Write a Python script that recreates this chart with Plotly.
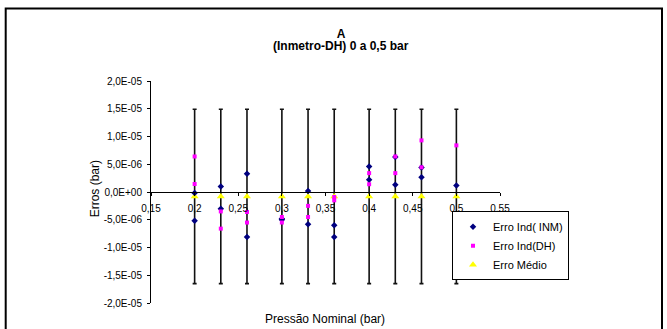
import plotly.graph_objects as go

# ---- data (values in units of 1E-6 bar) ----
pressao_inm = [0.2, 0.2, 0.23, 0.23, 0.26, 0.26, 0.3, 0.3, 0.33, 0.33,
               0.36, 0.36, 0.4, 0.4, 0.43, 0.43, 0.46, 0.46, 0.5]
erro_inm = [-0.18, -5.2, 0.97, -3.0, 3.3, -8.1, -5.0, -4.8, 0.2, -5.8,
            -6.0, -8.1, 4.6, 2.2, 6.3, 1.3, 4.4, 2.65, 1.15]

pressao_dh = [0.2, 0.2, 0.23, 0.23, 0.26, 0.26, 0.3, 0.3, 0.33, 0.33,
              0.36, 0.36, 0.4, 0.4, 0.43, 0.43, 0.46, 0.46, 0.5]
erro_dh = [6.4, 1.44, -3.5, -6.6, -3.6, -5.5, -4.5, -5.5, -2.5, -4.5,
           -1.5, -0.9, 3.4, 1.4, 6.4, 3.4, 9.3, 4.45, 8.4]

pressao_medio = [0.2, 0.23, 0.26, 0.3, 0.33, 0.36, 0.4, 0.43, 0.46, 0.5]
erro_medio = [-0.8, -0.8, -0.8, -0.8, -0.8, -0.8, -0.8, -0.8, -0.8, -0.8]
incerteza = [15.7, 15.7, 15.7, 15.7, 15.7, 15.7, 15.7, 15.7, 15.7, 15.7]

x_tickvals = [0.15, 0.2, 0.25, 0.3, 0.35, 0.4, 0.45, 0.5, 0.55]
x_ticktext = ["0,15", "0,2", "0,25", "0,3", "0,35", "0,4", "0,45", "0,5", "0,55"]
y_tickvals = [-2.0e-5, -1.5e-5, -1.0e-5, -5.0e-6, 0.0, 5.0e-6, 1.0e-5, 1.5e-5, 2.0e-5]
y_ticktext = ["-2,0E-05", "-1,5E-05", "-1,0E-05", "-5,0E-06", "0,0E+00",
              "5,0E-06", "1,0E-05", "1,5E-05", "2,0E-05"]

E = 1e-6
FONT = "Liberation Sans, Arial, sans-serif"

# plot area in pixels
L, R, T, B = 151, 500, 80.7, 302.7
W, H = 667, 329


def px(xp):
    return (xp - L) / (R - L)


def py(yp):
    return (B - yp) / (B - T)


fig = go.Figure()

fig.add_trace(go.Scatter(
    x=pressao_medio, y=[v * E for v in erro_medio], mode="markers",
    name="Erro Médio", legendrank=3,
    marker=dict(symbol="triangle-up", size=7, color="#FFFF00"),
    error_y=dict(type="data", array=[v * E for v in incerteza], symmetric=True,
                 color="#111111", thickness=1.6, width=2),
))
fig.add_trace(go.Scatter(
    x=pressao_inm, y=[v * E for v in erro_inm], mode="markers",
    name="Erro Ind( INM)", legendrank=1,
    marker=dict(symbol="diamond", size=5, color="#000080"),
))
fig.add_trace(go.Scatter(
    x=pressao_dh, y=[v * E for v in erro_dh], mode="markers",
    name="Erro Ind(DH)", legendrank=2,
    marker=dict(symbol="square", size=4, color="#FF00FF"),
))

fig.update_layout(
    width=W, height=H,
    margin=dict(l=L, r=W - R, t=T, b=H - B),
    paper_bgcolor="white", plot_bgcolor="white",
    font=dict(family=FONT, size=10, color="black"),
    title=dict(text="<b>A</b>",
               font=dict(family=FONT, size=12, color="black"),
               x=341 / W, xanchor="center", xref="container",
               y=1 - 33.3 / H, yanchor="middle", yref="container"),
    xaxis=dict(range=[0.15, 0.55], tickvals=x_tickvals, ticktext=x_ticktext,
               anchor="free", position=0.5, showline=True, linecolor="black",
               linewidth=1, ticks="outside", ticklen=3, tickcolor="black",
               ticklabelstandoff=4,
               showgrid=False, zeroline=False,
               tickfont=dict(family=FONT, size=10, color="black")),
    yaxis=dict(range=[-2.0e-5, 2.0e-5], tickvals=y_tickvals, ticktext=y_ticktext,
               showline=True, linecolor="black", linewidth=1, ticks="outside",
               ticklen=3, tickcolor="black", ticklabelstandoff=3,
               showgrid=False, zeroline=False,
               tickfont=dict(family=FONT, size=10, color="black")),
    legend=dict(x=px(452), xanchor="left", y=py(211),
                yanchor="top", bgcolor="white", bordercolor="black",
                borderwidth=1, font=dict(family=FONT, size=11, color="black"),
                itemwidth=30, tracegroupgap=0),
    showlegend=True,
)

fig.add_annotation(text="<b>(Inmetro-DH) 0 a 0,5 bar</b>", xref="paper", yref="paper",
                   x=px(341), y=py(45.7), yanchor="middle", showarrow=False,
                   font=dict(family=FONT, size=12, color="black"))
fig.add_annotation(text="Erros (bar)", xref="paper", yref="paper", x=px(95), y=py(189),
                   xanchor="center", yanchor="middle", textangle=-90, showarrow=False,
                   font=dict(family=FONT, size=12, color="black"))
fig.add_annotation(text="Pressão Nominal (bar)", xref="paper", yref="paper",
                   x=px(325), y=py(319), yanchor="middle",
                   showarrow=False, font=dict(family=FONT, size=12, color="black"))

fig.add_shape(type="rect", xref="paper", yref="paper",
              x0=px(5.7), x1=px(662), y0=py(340), y1=py(8.3),
              line=dict(color="black", width=2), fillcolor="rgba(0,0,0,0)",
              layer="below")

fig.write_html("out.html", config={"displayModeBar": False},
               post_script="document.body.style.margin='0px';document.body.style.padding='0px';")
